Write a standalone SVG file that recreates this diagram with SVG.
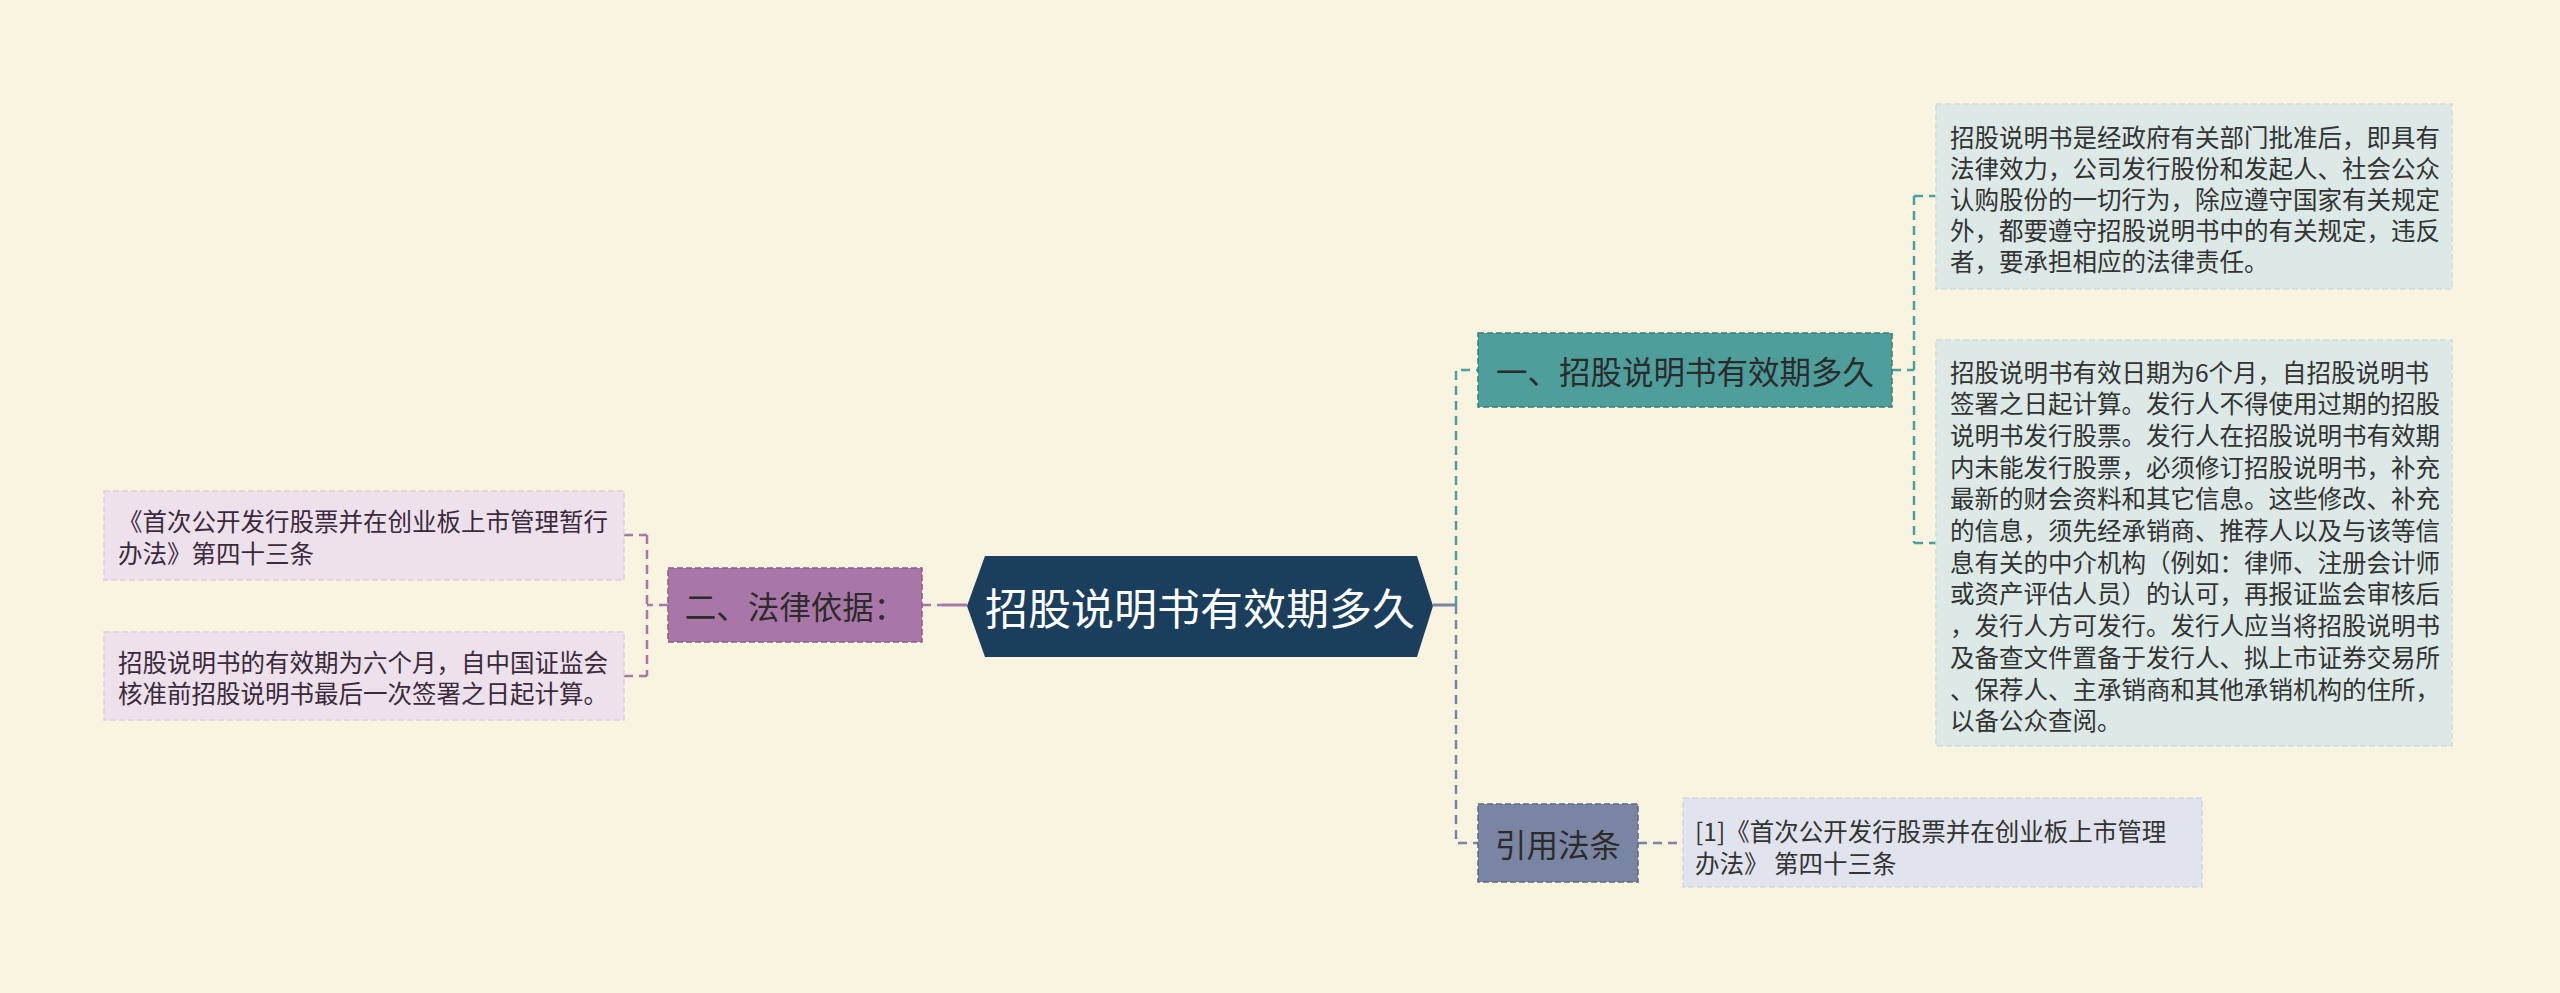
<svg xmlns="http://www.w3.org/2000/svg" width="2560" height="993" viewBox="0 0 2560 993">
<style>
text{font-family:"Noto Sans CJK SC","Noto Sans",sans-serif;}
.t{font-size:24.5px;fill:#333333;dominant-baseline:central;}
.tp{font-size:24.5px;fill:#3b2a3b;dominant-baseline:central;}
.b{font-size:31.5px;fill:#2b2b2b;dominant-baseline:central;text-anchor:middle;}
.c{font-size:43px;fill:#ffffff;dominant-baseline:central;text-anchor:middle;}
.dash{fill:none;stroke-width:2.5;stroke-dasharray:9 6;}
.box{stroke-width:1.5;stroke-dasharray:6 3;}
</style>
<rect x="0" y="0" width="2560" height="993" fill="#f9f4df"/>
<g id="connectors">
  <line x1="1433" y1="605" x2="1456" y2="605" stroke="#7a85a3" stroke-width="3"/>
  <path class="dash" stroke="#4e9e9c" d="M1456 605 V370 H1478"/>
  <path class="dash" stroke="#7a85a3" d="M1456 605 V843 H1478"/>
  <path class="dash" stroke="#4e9e9c" d="M1892 370 H1914 M1914 196 V543 M1914 196 H1936 M1914 543 H1936"/>
  <path class="dash" stroke="#7a85a3" d="M1638 843 H1683"/>
  <line x1="942" y1="605" x2="967" y2="605" stroke="#a877a8" stroke-width="3"/>
  <path class="dash" stroke="#a877a8" d="M922 605 H942"/>
  <path class="dash" stroke="#a877a8" d="M668 605 H647 M647 535 V676 M624 535 H647 M624 676 H647"/>
</g>
<g id="root">
  <polygon points="967,606 985,556 1417,556 1433,606 1417,657 985,657" fill="#1b3e5d"/>
  <text class="c" x="1200" y="606">招股说明书有效期多久</text>
</g>
<g id="branch1">
  <rect class="box" x="1478" y="333" width="414" height="74" fill="#4e9e9c" stroke="#3a7e7c"/>
  <text class="b" x="1685" y="370">一、招股说明书有效期多久</text>
</g>
<g id="leaf1">
  <rect class="box" x="1936" y="104" width="516" height="185" fill="#dce9e6" stroke="#cddfdb"/>
  <text class="t" x="1950" y="136">招股说明书是经政府有关部门批准后，即具有</text>
  <text class="t" x="1950" y="167">法律效力，公司发行股份和发起人、社会公众</text>
  <text class="t" x="1950" y="198">认购股份的一切行为，除应遵守国家有关规定</text>
  <text class="t" x="1950" y="229">外，都要遵守招股说明书中的有关规定，违反</text>
  <text class="t" x="1950" y="260">者，要承担相应的法律责任。</text>
</g>
<g id="leaf2">
  <rect class="box" x="1936" y="340" width="516" height="406" fill="#dce9e6" stroke="#cddfdb"/>
  <text class="t" x="1950" y="371">招股说明书有效日期为6个月，自招股说明书</text>
  <text class="t" x="1950" y="402.7">签署之日起计算。发行人不得使用过期的招股</text>
  <text class="t" x="1950" y="434.4">说明书发行股票。发行人在招股说明书有效期</text>
  <text class="t" x="1950" y="466.1">内未能发行股票，必须修订招股说明书，补充</text>
  <text class="t" x="1950" y="497.8">最新的财会资料和其它信息。这些修改、补充</text>
  <text class="t" x="1950" y="529.5">的信息，须先经承销商、推荐人以及与该等信</text>
  <text class="t" x="1950" y="561.2">息有关的中介机构（例如：律师、注册会计师</text>
  <text class="t" x="1950" y="592.9">或资产评估人员）的认可，再报证监会审核后</text>
  <text class="t" x="1950" y="624.6">，发行人方可发行。发行人应当将招股说明书</text>
  <text class="t" x="1950" y="656.3">及备查文件置备于发行人、拟上市证券交易所</text>
  <text class="t" x="1950" y="688">、保荐人、主承销商和其他承销机构的住所，</text>
  <text class="t" x="1950" y="719.7">以备公众查阅。</text>
</g>
<g id="branch3">
  <rect class="box" x="1478" y="804" width="160" height="78" fill="#7a85a3" stroke="#5d6887"/>
  <text class="b" x="1558" y="843">引用法条</text>
</g>
<g id="leaf3">
  <rect class="box" x="1683" y="798" width="519" height="89" fill="#e1e4ec" stroke="#d3d7e2"/>
  <text class="t" x="1695" y="830">[1]《首次公开发行股票并在创业板上市管理</text>
  <text class="t" x="1695" y="862">办法》 第四十三条</text>
</g>
<g id="branch2">
  <rect class="box" x="668" y="568" width="254" height="74" fill="#a877a8" stroke="#8c5b8c"/>
  <text class="b" x="795" y="605">二、法律依据：</text>
</g>
<g id="leftleaf1">
  <rect class="box" x="104" y="491" width="520" height="89" fill="#ede1ec" stroke="#e0d0df"/>
  <text class="tp" x="118" y="520">《首次公开发行股票并在创业板上市管理暂行</text>
  <text class="tp" x="118" y="552">办法》第四十三条</text>
</g>
<g id="leftleaf2">
  <rect class="box" x="104" y="632" width="520" height="88" fill="#ede1ec" stroke="#e0d0df"/>
  <text class="tp" x="118" y="661">招股说明书的有效期为六个月，自中国证监会</text>
  <text class="tp" x="118" y="692">核准前招股说明书最后一次签署之日起计算。</text>
</g>
</svg>
